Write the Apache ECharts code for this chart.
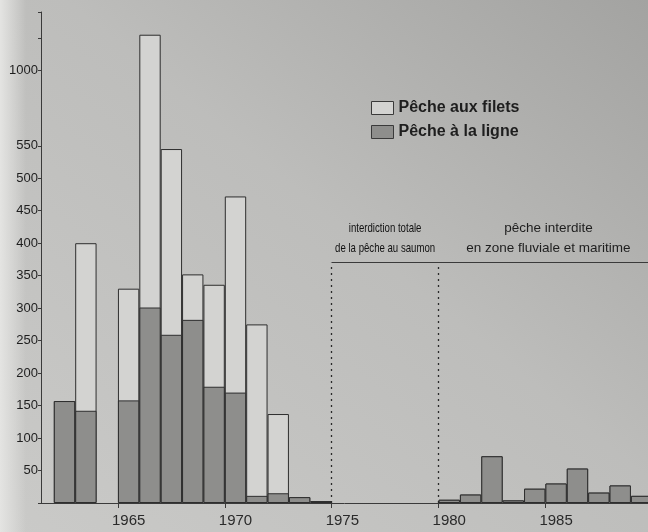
<!DOCTYPE html>
<html>
<head>
<meta charset="utf-8">
<script src="https://cdn.jsdelivr.net/npm/echarts@6/dist/echarts.min.js"></script>
<style>
  html, body { margin: 0; padding: 0; }
  body {
    width: 648px; height: 532px; overflow: hidden;
    background:
      linear-gradient(to right, rgba(228,228,226,1) 0px, rgba(228,228,226,0) 26px),
      linear-gradient(to bottom left, #a3a3a1 0%, #bdbdbb 45%, #cacac8 100%);
  }
  #chart { width: 648px; height: 532px; }
</style>
</head>
<body>
<div id="chart"></div>
<script>
// ---- data ----
const years  = [1962, 1963, 1965, 1966, 1967, 1968, 1969, 1970, 1971, 1972, 1973, 1974,
                1980, 1981, 1982, 1983, 1984, 1985, 1986, 1987, 1988, 1989];
const ligne  = [157, 142, 158, 301, 259, 282, 179, 170, 11, 15, 9, 3,
                5, 13, 72, 4, 22, 30, 53, 16, 27, 11];
const filets = [0, 258, 172, 754, 286, 70, 157, 302, 264, 122, 0, 0,
                0, 0, 0, 0, 0, 0, 0, 0, 0, 0];
const xTickYears = [1965, 1970, 1975, 1980, 1985];
const yLabels = [50, 100, 150, 200, 250, 300, 350, 400, 450, 500, 550, 1000];
const banYear1 = 1975, banYear2 = 1980, banLevel = 370;
const banText1 = 'interdiction totale\nde la pêche au saumon';
const banText2 = 'pêche interdite\nen zone fluviale et maritime';
const seriesNames = ['Pêche aux filets', 'Pêche à la ligne'];

const X_MIN = 1961.4, X_MAX = 1989.8;
const toXY = arr => years.map((y, i) => [y + 0.5, arr[i]]);
// stacked top of each bar = ligne + filets
const totals = ligne.map((v, i) => v + filets[i]);

const chart = echarts.init(document.getElementById('chart'), null, { renderer: 'canvas' });
const font = "'Liberation Sans', Arial, sans-serif";
const ink = '#1e1e1e';

chart.setOption({
  animation: false,
  backgroundColor: 'transparent',
  grid: { left: 41, right: 0, top: 12, bottom: 29, containLabel: false },
  legend: {
    orient: 'vertical',
    left: 366, top: 95,
    itemWidth: 22, itemHeight: 13, itemGap: 8,
    icon: 'rect',
    data: seriesNames,
    itemStyle: { borderWidth: 1, borderColor: '#3a3a3a' },
    textStyle: { fontFamily: font, fontWeight: 'bold', fontSize: 16, color: ink }
  },
  xAxis: {
    type: 'value',
    min: X_MIN, max: X_MAX,
    splitLine: { show: false },
    axisLine: { show: true, onZero: false, lineStyle: { color: '#3a3a3a', width: 1 } },
    axisTick: { show: true, length: 5, customValues: xTickYears, lineStyle: { color: '#3a3a3a' } },
    axisLabel: {
      customValues: xTickYears.map(y => y + 0.5),
      formatter: v => String(Math.floor(v)),
      fontFamily: font, fontSize: 15, color: '#2a2a2a', margin: 10
    }
  },
  yAxis: [
    {
      type: 'value',
      min: 0, max: 1090, interval: 50,
      breaks: [{ start: 550, end: 1000, gap: 116 }],
      breakArea: { show: false },
      splitLine: { show: false },
      axisLine: { show: false },
      axisTick: { show: true, length: 3, lineStyle: { color: '#3a3a3a' } },
      axisLabel: {
        formatter: v => (yLabels.indexOf(v) >= 0 ? String(v) : ''),
        fontFamily: font, fontSize: 13, color: ink, margin: 3
      }
    },
    {
      // continuous axis line (the printed axis is not interrupted at the break)
      type: 'value', position: 'left', min: 0, max: 1,
      splitLine: { show: false },
      axisTick: { show: false },
      axisLabel: { show: false },
      axisLine: { show: true, lineStyle: { color: '#3a3a3a', width: 1 } }
    }
  ],
  series: [
    {
      name: seriesNames[0],
      type: 'bar',
      barWidth: '100%',
      barGap: '-100%',
      data: toXY(totals),
      itemStyle: { color: '#d3d3d1', borderColor: '#2e2e2e', borderWidth: 1 },
      emphasis: { disabled: true },
      markLine: {
        silent: true,
        symbol: ['none', 'none'],
        label: { show: false },
        data: [
          [{ coord: [banYear1, 0], lineStyle: { color: '#2a2a2a', width: 1.3, type: [2, 4] } },
           { coord: [banYear1, banLevel] }],
          [{ coord: [banYear2, 0], lineStyle: { color: '#2a2a2a', width: 1.3, type: [2, 4] } },
           { coord: [banYear2, banLevel] }],
          [{ coord: [banYear1, banLevel], lineStyle: { color: '#3a3a3a', width: 1, type: 'solid' } },
           { coord: [X_MAX, banLevel] }]
        ]
      }
    },
    {
      name: seriesNames[1],
      type: 'bar',
      barWidth: '100%',
      barGap: '-100%',
      data: toXY(ligne),
      itemStyle: { color: '#8e8e8c', borderColor: '#2e2e2e', borderWidth: 1 },
      emphasis: { disabled: true }
    }
  ]
});

// Annotation texts, placed through the chart's own scales
function px(x, y) { return chart.convertToPixel({ xAxisIndex: 0, yAxisIndex: 0 }, [x, y]); }
const p1 = px((banYear1 + banYear2) / 2, banLevel);
const p2 = px((banYear2 + 1990) / 2, banLevel);
chart.setOption({
  graphic: [
    { type: 'text', x: p1[0], y: p1[1] - 5, scaleX: 0.74, silent: true,
      style: { text: banText1, fontFamily: font, fontSize: 13, lineHeight: 19.5,
               fill: '#111', align: 'center', verticalAlign: 'bottom' } },
    { type: 'text', x: p2[0] + 3, y: p2[1] - 4, silent: true,
      style: { text: banText2, fontFamily: font, fontSize: 13.5, lineHeight: 20,
               fill: ink, align: 'center', verticalAlign: 'bottom' } }
  ]
});
</script>
</body>
</html>
